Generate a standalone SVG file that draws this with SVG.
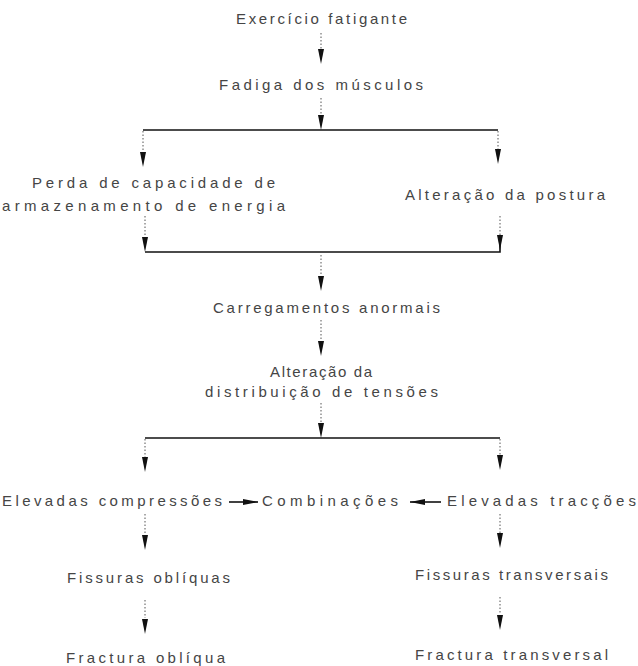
<svg xmlns="http://www.w3.org/2000/svg" width="638" height="666" viewBox="0 0 638 666">
<style>
text{font-family:"Liberation Sans","DejaVu Sans",sans-serif;font-size:15px;fill:#454545;text-anchor:start}
.stem{stroke:#555;stroke-width:1;stroke-dasharray:1.5 2;fill:none}
.line{stroke:#111;stroke-width:1.6;fill:none}
.head{stroke:none;fill:none}
</style>
<defs>
<marker id="ah" viewBox="0 -3 15 6" refX="15" refY="0" markerWidth="15" markerHeight="6" markerUnits="userSpaceOnUse" orient="auto">
<path d="M0,-3 L15,0 L0,3 Z" fill="#111"/>
</marker>
</defs>
<rect width="638" height="666" fill="#fff"/>
<g id="connectors">
<line class="stem" x1="321" y1="33" x2="321" y2="50"/><line class="head" x1="321" y1="49" x2="321" y2="64" marker-end="url(#ah)"/>
<line class="stem" x1="321" y1="98" x2="321" y2="116"/><line class="head" x1="321" y1="115" x2="321" y2="130" marker-end="url(#ah)"/>
<line class="line" x1="143" y1="130" x2="498" y2="130"/>
<line class="stem" x1="143" y1="131" x2="143" y2="152"/>
<line class="head" x1="143" y1="151" x2="143" y2="167" marker-end="url(#ah)"/>
<line class="stem" x1="498" y1="131" x2="498" y2="149"/>
<line class="head" x1="498" y1="148" x2="498" y2="164" marker-end="url(#ah)"/>
<line class="stem" x1="145" y1="216" x2="145" y2="237"/>
<line class="head" x1="145" y1="236" x2="145" y2="252" marker-end="url(#ah)"/>
<line class="stem" x1="500" y1="216" x2="500" y2="235"/>
<line class="head" x1="500" y1="234" x2="500" y2="250" marker-end="url(#ah)"/>
<polyline class="line" points="145,252 500,252 500,244"/>
<line class="stem" x1="321" y1="255" x2="321" y2="276"/><line class="head" x1="321" y1="275" x2="321" y2="291" marker-end="url(#ah)"/>
<line class="stem" x1="321" y1="320" x2="321" y2="341"/><line class="head" x1="321" y1="340" x2="321" y2="356" marker-end="url(#ah)"/>
<line class="stem" x1="321" y1="403" x2="321" y2="423"/><line class="head" x1="321" y1="422" x2="321" y2="438" marker-end="url(#ah)"/>
<line class="line" x1="145" y1="438" x2="500" y2="438"/>
<line class="stem" x1="145" y1="439" x2="145" y2="457"/>
<line class="head" x1="145" y1="456" x2="145" y2="472" marker-end="url(#ah)"/>
<line class="stem" x1="500" y1="439" x2="500" y2="455"/>
<line class="head" x1="500" y1="454" x2="500" y2="470" marker-end="url(#ah)"/>
<line class="line" x1="229" y1="502" x2="258" y2="502" marker-end="url(#ah)"/>
<line class="line" x1="441" y1="502" x2="410" y2="502" marker-end="url(#ah)"/>
<line class="stem" x1="145" y1="514" x2="145" y2="535"/>
<line class="head" x1="145" y1="534" x2="145" y2="550" marker-end="url(#ah)"/>
<line class="stem" x1="500" y1="514" x2="500" y2="533"/>
<line class="head" x1="500" y1="532" x2="500" y2="548" marker-end="url(#ah)"/>
<line class="stem" x1="145" y1="600" x2="145" y2="618"/>
<line class="head" x1="145" y1="617" x2="145" y2="634" marker-end="url(#ah)"/>
<line class="stem" x1="500" y1="597" x2="500" y2="614"/>
<line class="head" x1="500" y1="613" x2="500" y2="630" marker-end="url(#ah)"/>
</g>
<g id="n1"><text x="236" y="24" textLength="171" lengthAdjust="spacing">Exercício fatigante</text></g>
<g id="n2"><text x="219" y="90" textLength="204" lengthAdjust="spacing">Fadiga dos músculos</text></g>
<g id="n3"><text x="32" y="188" textLength="243" lengthAdjust="spacing">Perda de capacidade de</text><text x="2" y="211" textLength="283" lengthAdjust="spacing">armazenamento de energia</text></g>
<g id="n4"><text x="405" y="200" textLength="200" lengthAdjust="spacing">Alteração da postura</text></g>
<g id="n5"><text x="213" y="313" textLength="227" lengthAdjust="spacing">Carregamentos anormais</text></g>
<g id="n6"><text x="270" y="377" textLength="102" lengthAdjust="spacing">Alteração da</text><text x="205" y="397" textLength="233" lengthAdjust="spacing">distribuição de tensões</text></g>
<g id="n7"><text x="2" y="506" textLength="220" lengthAdjust="spacing">Elevadas compressões</text></g>
<g id="n8"><text x="262" y="506" textLength="136" lengthAdjust="spacing">Combinações</text></g>
<g id="n9"><text x="447" y="506" textLength="189" lengthAdjust="spacing">Elevadas tracções</text></g>
<g id="n10"><text x="67" y="583" textLength="163" lengthAdjust="spacing">Fissuras oblíquas</text></g>
<g id="n11"><text x="415" y="580" textLength="193" lengthAdjust="spacing">Fissuras transversais</text></g>
<g id="n12"><text x="66" y="663" textLength="159" lengthAdjust="spacing">Fractura oblíqua</text></g>
<g id="n13"><text x="415" y="660" textLength="193" lengthAdjust="spacing">Fractura transversal</text></g>
</svg>
